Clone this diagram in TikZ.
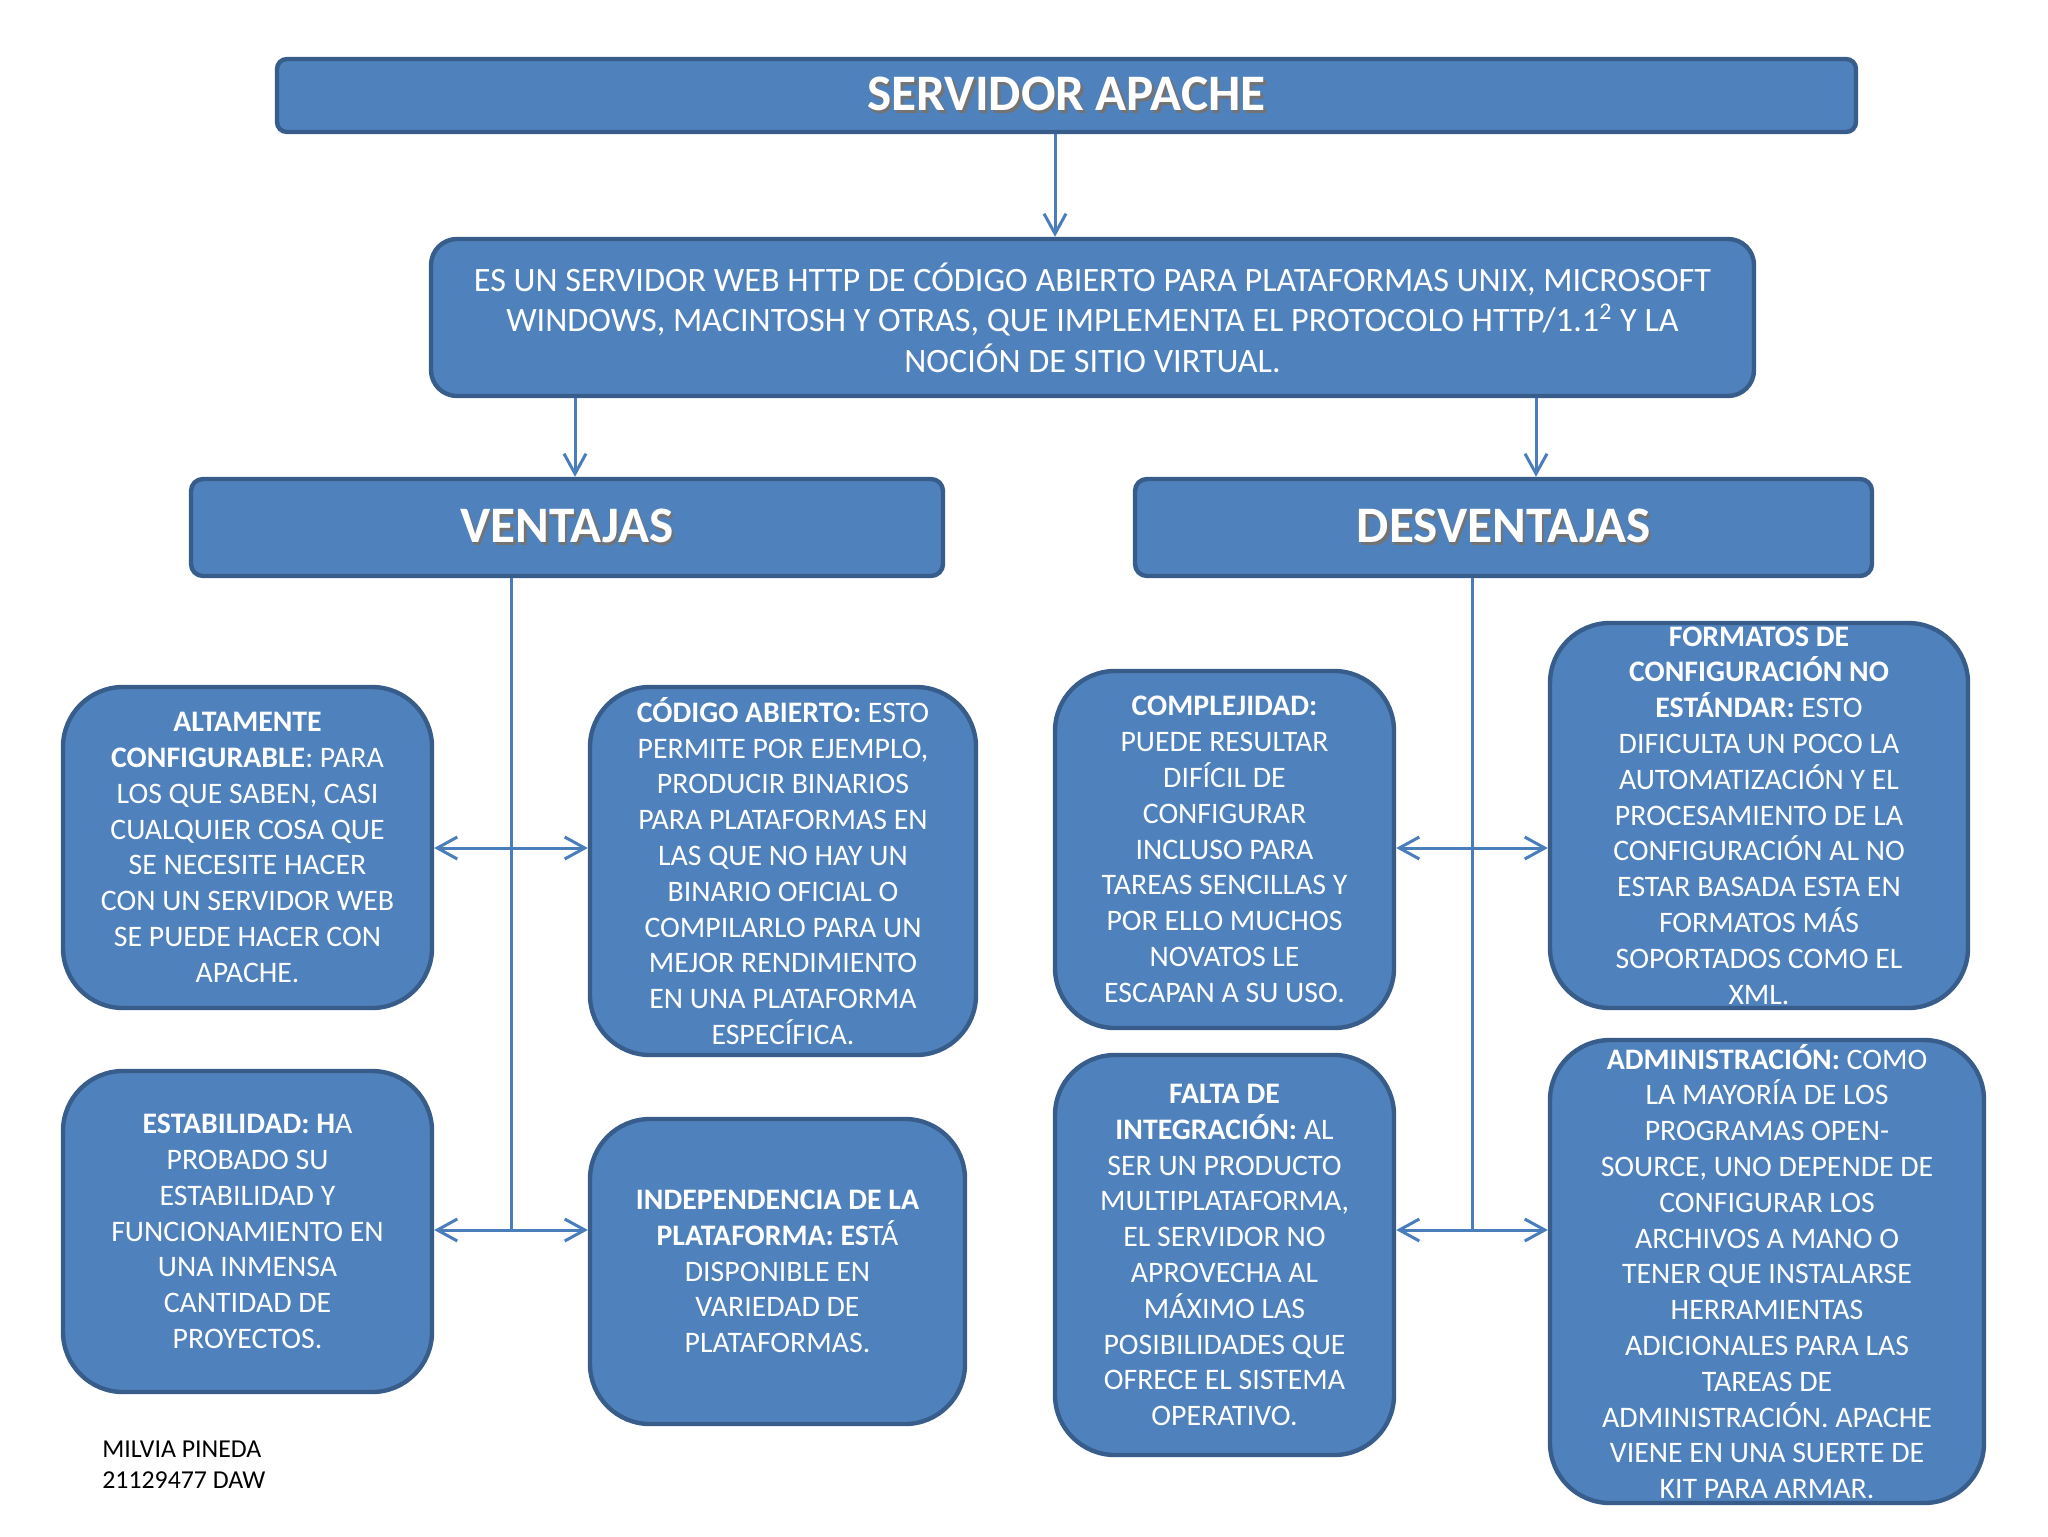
\documentclass[tikz,border=0pt]{standalone}
\usepackage{fontspec}
\setmainfont{Carlito}
\usetikzlibrary{arrows.meta}
\definecolor{boxfill}{HTML}{4F81BD}
\definecolor{boxline}{HTML}{385D8A}
\definecolor{linkline}{HTML}{4A7EBB}
\newcommand{\shadowed}[1]{\makebox[0pt][l]{\raisebox{-1.2pt}{\hspace{1.2pt}\textcolor{black!55}{#1}}}#1}
\begin{document}
\begin{tikzpicture}[x=0.5pt, y=-0.5pt,
        box/.style={draw=boxline, line width=2.2pt, fill=boxfill, text=white, inner sep=0pt, align=center},
        headbox/.style={box, rounded corners=6pt, font=\bfseries\fontsize{25.6}{30}\selectfont},
        infobox/.style={box, rounded corners=30pt, font=\fontsize{14.9}{17.9}\selectfont},
        link/.style={draw=linkline, line width=1.5pt},
        arr/.style={link, -{Straight Barb[length=10pt, width=11pt]}}]
        \useasboundingbox (0,0) rectangle (2048,1536);

        \node[headbox, rounded corners=5pt, minimum width=789.5pt, minimum height=36.5pt] (title) at (1066.5, 95.5) {\shadowed{SERVIDOR APACHE}};
        \node[box, rounded corners=13pt, minimum width=661.5pt, minimum height=78.5pt, font=\fontsize{17.1}{20.2}\selectfont] (desc) at (1092.5, 317.5)
            {ES UN SERVIDOR WEB HTTP DE CÓDIGO ABIERTO PARA PLATAFORMAS UNIX, MICROSOFT\\
             WINDOWS, MACINTOSH Y OTRAS, QUE IMPLEMENTA EL PROTOCOLO HTTP/1.1\textsuperscript{2} Y LA\\
             NOCIÓN DE SITIO VIRTUAL.};
        \node[headbox, minimum width=376pt, minimum height=48.5pt] (vent) at (567, 527.5) {\shadowed{VENTAJAS}};
        \node[headbox, minimum width=368.5pt, minimum height=48.5pt] (desv) at (1503.5, 527.5) {\shadowed{DESVENTAJAS}};

        \node[infobox, minimum width=184.5pt, minimum height=160.5pt] (config) at (247.5, 847.5)
            {\textbf{ALTAMENTE}\\\textbf{CONFIGURABLE}: PARA\\LOS QUE SABEN, CASI\\CUALQUIER COSA QUE\\SE NECESITE HACER\\CON UN SERVIDOR WEB\\SE PUEDE HACER CON\\APACHE.};
        \node[infobox, minimum width=193pt, minimum height=184pt] (codigo) at (783, 871)
            {\textbf{CÓDIGO ABIERTO:} ESTO\\PERMITE POR EJEMPLO,\\PRODUCIR BINARIOS\\PARA PLATAFORMAS EN\\LAS QUE NO HAY UN\\BINARIO OFICIAL O\\COMPILARLO PARA UN\\MEJOR RENDIMIENTO\\EN UNA PLATAFORMA\\ESPECÍFICA.};
        \node[infobox, minimum width=184.5pt, minimum height=160.5pt] (estab) at (247.5, 1231.5)
            {\textbf{ESTABILIDAD: H}A\\PROBADO SU\\ESTABILIDAD Y\\FUNCIONAMIENTO EN\\UNA INMENSA\\CANTIDAD DE\\PROYECTOS.};
        \node[infobox, minimum width=187.5pt, minimum height=152.5pt] (indep) at (777.5, 1271.5)
            {\textbf{INDEPENDENCIA DE LA}\\\textbf{PLATAFORMA: ES}TÁ\\DISPONIBLE EN\\VARIEDAD DE\\PLATAFORMAS.};

        \node[infobox, minimum width=169.5pt, minimum height=178.5pt] (compl) at (1224.5, 849.5)
            {\textbf{COMPLEJIDAD:}\\PUEDE RESULTAR\\DIFÍCIL DE\\CONFIGURAR\\INCLUSO PARA\\TAREAS SENCILLAS Y\\POR ELLO MUCHOS\\NOVATOS LE\\ESCAPAN A SU USO.};
        \node[infobox, minimum width=209pt, minimum height=192.5pt] (formatos) at (1759, 815.5)
            {\textbf{FORMATOS DE}\\\textbf{CONFIGURACIÓN NO}\\\textbf{ESTÁNDAR:} ESTO\\DIFICULTA UN POCO LA\\AUTOMATIZACIÓN Y EL\\PROCESAMIENTO DE LA\\CONFIGURACIÓN AL NO\\ESTAR BASADA ESTA EN\\FORMATOS MÁS\\SOPORTADOS COMO EL\\XML.};
        \node[infobox, minimum width=169.5pt, minimum height=200pt] (integ) at (1224.5, 1255)
            {\textbf{FALTA DE}\\\textbf{INTEGRACIÓN:} AL\\SER UN PRODUCTO\\MULTIPLATAFORMA,\\EL SERVIDOR NO\\APROVECHA AL\\MÁXIMO LAS\\POSIBILIDADES QUE\\OFRECE EL SISTEMA\\OPERATIVO.};
        \node[infobox, minimum width=217pt, minimum height=231.5pt] (admin) at (1767, 1271.5)
            {\textbf{ADMINISTRACIÓN:} COMO\\LA MAYORÍA DE LOS\\PROGRAMAS OPEN-\\SOURCE, UNO DEPENDE DE\\CONFIGURAR LOS\\ARCHIVOS A MANO O\\TENER QUE INSTALARSE\\HERRAMIENTAS\\ADICIONALES PARA LAS\\TAREAS DE\\ADMINISTRACIÓN. APACHE\\VIENE EN UNA SUERTE DE\\KIT PARA ARMAR.};

        \node[anchor=west, align=left, inner sep=0pt, font=\fontsize{12.9}{15.7}\selectfont] (autor) at (102, 1465) {MILVIA PINEDA\\21129477 DAW};

        \coordinate (drop) at (1055, 0);
        \coordinate (ldrop) at (575, 0);
        \coordinate (rdrop) at (1536, 0);
        \coordinate (vtop) at (511, 848);
        \coordinate (vbot) at (511, 1230);
        \coordinate (dtop) at (1472, 848);
        \coordinate (dbot) at (1472, 1230);

        \draw[arr] (title.south -| drop) -- (desc.north -| drop);
        \draw[arr] (desc.south -| ldrop) -- (vent.north -| ldrop);
        \draw[arr] (desc.south -| rdrop) -- (desv.north -| rdrop);

        \draw[link] (vent.south -| vtop) -- (vbot);
        \draw[arr] (vtop) -- (vtop -| config.east);
        \draw[arr] (vtop) -- (vtop -| codigo.west);
        \draw[arr] (vbot) -- (vbot -| estab.east);
        \draw[arr] (vbot) -- (vbot -| indep.west);

        \draw[link] (desv.south -| dtop) -- (dbot);
        \draw[arr] (dtop) -- (dtop -| compl.east);
        \draw[arr] (dtop) -- (dtop -| formatos.west);
        \draw[arr] (dbot) -- (dbot -| integ.east);
        \draw[arr] (dbot) -- (dbot -| admin.west);
    \end{tikzpicture}
\end{document}
